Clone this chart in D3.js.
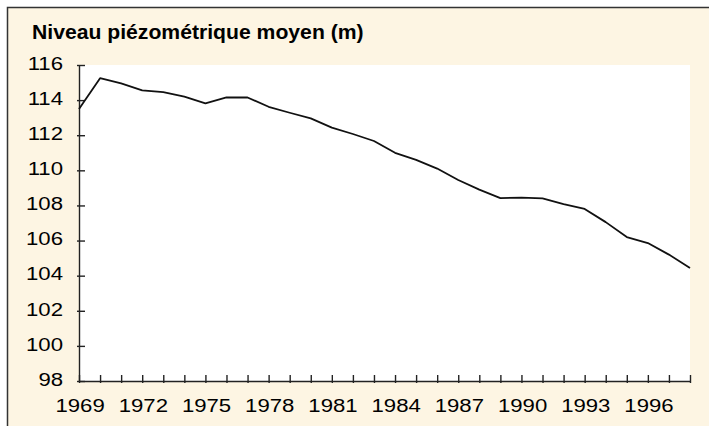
<!DOCTYPE html>
<html>
<head>
<meta charset="utf-8">
<script src="https://cdn.jsdelivr.net/npm/d3@7/dist/d3.min.js"></script>
<style>
  body { margin: 0; background: #fff; }
  svg { display: block; font-family: "Liberation Sans", Arial, sans-serif; }
</style>
</head>
<body>
<div id="chart"></div>
<script>
// Données
const years = d3.range(1969, 1999);
const niveaux = [
  113.5, 115.25, 114.95, 114.55, 114.45, 114.2, 113.82, 114.15, 114.15, 113.62,
  113.28, 112.96, 112.43, 112.07, 111.67, 111.0, 110.6, 110.1, 109.45, 108.9,
  108.42, 108.45, 108.4, 108.08, 107.8, 107.05, 106.2, 105.86, 105.2, 104.44
];
const yTicks = [98, 100, 102, 104, 106, 108, 110, 112, 114, 116];
const xLabels = [1969, 1972, 1975, 1978, 1981, 1984, 1987, 1990, 1993, 1996];
const titre = "Niveau piézométrique moyen (m)";

const width = 709, height = 426;
const margin = { top: 65, right: 19, bottom: 45, left: 79 };
const labelSize = 18, stretch = 1.23;

const svg = d3.select('#chart')
  .append('svg')
  .attr('width', width)
  .attr('height', height);

// Fond crème + cadre (haut et gauche)
svg.append('rect')
  .attr('x', 8).attr('y', 8)
  .attr('width', width - 8).attr('height', height - 8)
  .attr('fill', '#fdf5e3');

svg.append('path')
  .attr('d', `M7.5,${height}V7.5H${width}`)
  .attr('fill', 'none')
  .attr('stroke', '#333')
  .attr('stroke-width', 1.5);

const x = d3.scaleLinear()
  .domain([1969, 1998])
  .range([margin.left, width - margin.right]);

const y = d3.scaleLinear()
  .domain([98, 116])
  .range([height - margin.bottom, margin.top]);

// Zone de tracé blanche
svg.append('rect')
  .attr('x', x(1969)).attr('y', y(116))
  .attr('width', x(1998) - x(1969))
  .attr('height', y(98) - y(116))
  .attr('fill', '#fff');

// Étirer le texte horizontalement (police large de l'original)
function widen(sel, k) {
  sel.each(function() {
    const w = this.getComputedTextLength();
    if (w > 0) {
      d3.select(this)
        .attr('textLength', w * k)
        .attr('lengthAdjust', 'spacingAndGlyphs');
    }
  });
}

// Titre
svg.append('text')
  .attr('x', 32).attr('y', 39)
  .attr('font-size', '19.6px')
  .attr('font-weight', 'bold')
  .attr('fill', '#000')
  .text(titre)
  .call(widen, 1.08);

// Axe Y
const yAxis = svg.append('g')
  .attr('transform', `translate(${x(1969)},0)`)
  .call(d3.axisLeft(y).tickValues(yTicks).tickSize(0).tickPadding(16));
yAxis.select('.domain').attr('stroke', '#222').attr('stroke-width', 1.4);
yAxis.selectAll('.tick text')
  .attr('font-size', labelSize + 'px')
  .attr('dy', '0.24em')
  .attr('fill', '#000')
  .attr('font-family', '"Liberation Sans", Arial, sans-serif')
  .call(widen, stretch);
yAxis.selectAll('.tick').append('line')
  .attr('x1', -2).attr('x2', 6)
  .attr('stroke', '#222').attr('stroke-width', 1.4);

// Axe X
const xAxis = svg.append('g')
  .attr('transform', `translate(0,${y(98)})`)
  .call(d3.axisBottom(x).tickValues(years).tickSize(0).tickPadding(18.7)
    .tickFormat(d => xLabels.includes(d) ? d : ''));
xAxis.select('.domain').attr('stroke', '#222').attr('stroke-width', 1.4);
xAxis.selectAll('.tick text')
  .attr('font-size', labelSize + 'px')
  .attr('dx', 0.6)
  .attr('fill', '#000')
  .attr('font-family', '"Liberation Sans", Arial, sans-serif')
  .call(widen, stretch);
xAxis.selectAll('.tick').append('line')
  .attr('y1', -6).attr('y2', 2)
  .attr('stroke', '#222').attr('stroke-width', 1.4);

// Courbe
const line = d3.line()
  .x((d, i) => x(years[i]))
  .y(d => y(d));

svg.append('path')
  .datum(niveaux)
  .attr('d', line)
  .attr('fill', 'none')
  .attr('stroke', '#111')
  .attr('stroke-width', 1.8)
  .attr('stroke-linejoin', 'round');
</script>
</body>
</html>
